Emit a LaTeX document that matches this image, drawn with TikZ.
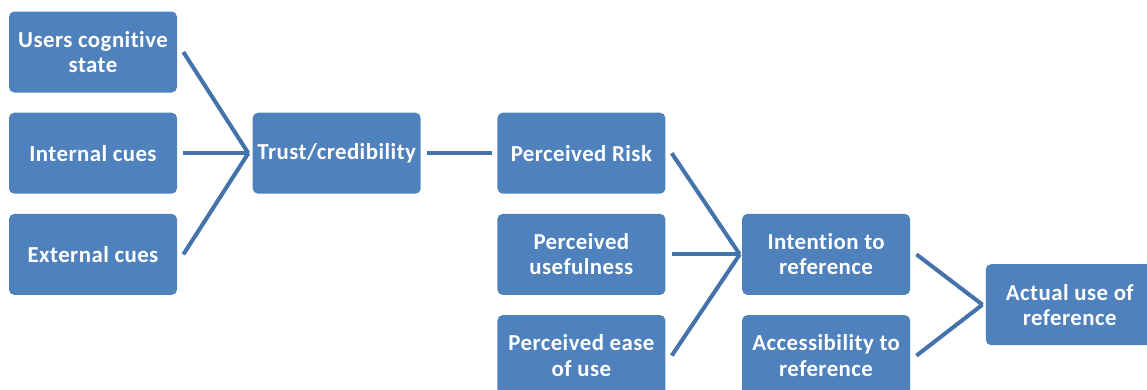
\documentclass[tikz,border=0pt]{standalone}
\usepackage{fontspec}
\setmainfont{Carlito}[Ligatures=NoCommon,LetterSpace=2]
\usetikzlibrary{positioning}
\definecolor{boxblue}{RGB}{79,129,189}
\definecolor{lineblue}{RGB}{68,114,170}
\tikzstyle{factor}=[fill=boxblue,rounded corners=3pt,minimum width=3.36cm,minimum height=1.62cm,inner sep=1pt,text=white,align=center,font=\fontsize{13}{14.3}\selectfont\bfseries]
\tikzstyle{link}=[draw=lineblue,line width=2.3pt]

\begin{document}
\begin{tikzpicture}
\useasboundingbox (0,0) rectangle (22.94,-7.78);
\clip (0,0) rectangle (22.94,-7.78);
\begin{scope}[node distance=0.39cm and 1.5cm]
    \node [factor] (users) at (1.86,-1.04) {Users cognitive\\state};
    \node [factor,below=of users] (internal) {Internal cues};
    \node [factor,below=of internal] (external) {External cues};
    \node [factor,right=of internal] (trust) {Trust/credibility};
    \node [factor,right=1.52cm of trust] (risk) {Perceived Risk};
    \node [factor,below=of risk] (useful) {Perceived\\usefulness};
    \node [factor,below=of useful] (ease) {Perceived ease\\of use};
    \node [factor,right=1.52cm of useful] (intention) {Intention to\\reference};
    \node [factor,below=of intention] (access) {Accessibility to\\reference};
    \node [factor,right=1.5cm of intention,yshift=-1.005cm] (actual) {Actual use of\\reference};
\end{scope}
\coordinate [left=0.08cm of trust.west] (intrust);
\coordinate [left=0.04cm of intention.west] (inintention);
\coordinate [left=0.06cm of actual.west] (inactual);
\foreach \n in {users,internal,external}
    \draw [link] ([xshift=0.12cm]\n.east) -- (intrust);
\draw [link] ([xshift=0.12cm]trust.east) -- ([xshift=-0.1cm]risk.west);
\foreach \n in {risk,useful,ease}
    \draw [link] ([xshift=0.12cm]\n.east) -- (inintention);
\foreach \n in {intention,access}
    \draw [link] ([xshift=0.12cm]\n.east) -- (inactual);
\end{tikzpicture}
\end{document}
